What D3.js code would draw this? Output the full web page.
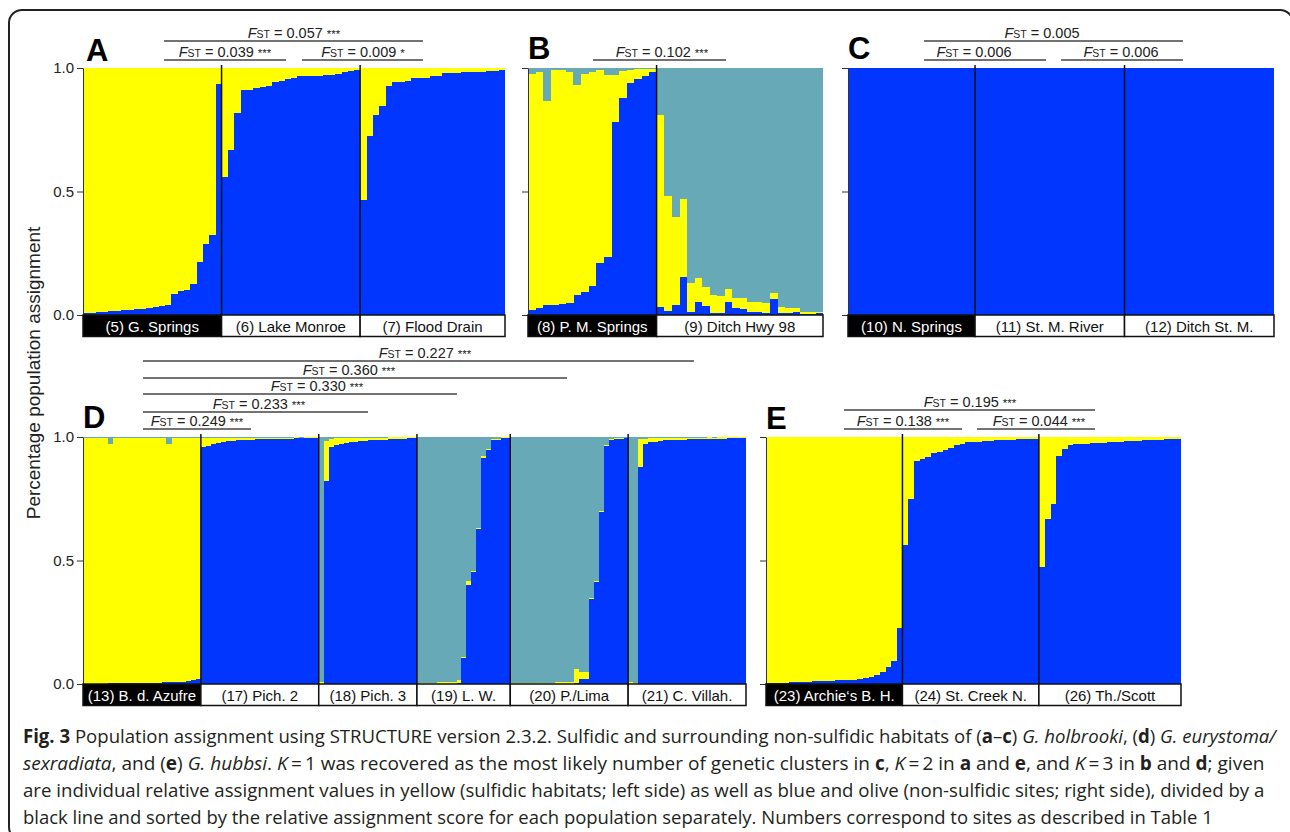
<!DOCTYPE html>
<html>
<head>
<meta charset="utf-8">
<script src="https://cdn.jsdelivr.net/npm/d3@7"></script>
<style>
  body { margin: 0; background: #fff; }
  text { font-family: Arial, "Liberation Sans", sans-serif; fill: #222; }
  .caption text, text.caption { font-family: "Open Sans", sans-serif; }
</style>
</head>
<body>
<svg id="fig" width="1290" height="832"></svg>
<script>
// cluster colours
var yellow = "#ffff00", blue = "#0036ff", teal = "#68a9b7";

// ---- individual assignment values, sorted as in the figure ----
// K = 2 (and K = 1) populations: blue share, yellow is the rest
var pop5Blue = [0.007, 0.009, 0.011, 0.013, 0.015, 0.017, 0.019, 0.021, 0.023, 0.025, 0.028, 0.031, 0.035, 0.04, 0.084, 0.098, 0.103, 0.124, 0.213, 0.288, 0.323, 0.936];
var pop6Blue = [0.558, 0.666, 0.818, 0.909, 0.911, 0.918, 0.925, 0.927, 0.944, 0.946, 0.955, 0.96, 0.966, 0.968, 0.969, 0.969, 0.971, 0.973, 0.974, 0.982, 0.986, 0.99];
var pop7Blue = [0.466, 0.726, 0.811, 0.845, 0.928, 0.942, 0.945, 0.946, 0.958, 0.959, 0.96, 0.967, 0.969, 0.978, 0.98, 0.981, 0.982, 0.983, 0.984, 0.985, 0.987, 0.989, 0.99];
var pop10Blue = [1, 1, 1, 1, 1, 1, 1, 1, 1, 1, 1, 1, 1, 1, 1, 1, 1];
var pop11Blue = [1, 1, 1, 1, 1, 1, 1, 1, 1, 1, 1, 1, 1, 1, 1, 1, 1, 1, 1, 1];
var pop12Blue = [1, 1, 1, 1, 1, 1, 1, 1, 1, 1, 1, 1, 1, 1, 1, 1, 1, 1, 1, 1];
var pop23Blue = [0.003, 0.004, 0.005, 0.006, 0.007, 0.008, 0.009, 0.01, 0.011, 0.012, 0.013, 0.014, 0.015, 0.016, 0.017, 0.018, 0.02, 0.023, 0.03, 0.036, 0.05, 0.068, 0.093, 0.225];
var pop24Blue = [0.561, 0.749, 0.901, 0.911, 0.919, 0.937, 0.939, 0.946, 0.955, 0.966, 0.973, 0.979, 0.98, 0.981, 0.984, 0.985, 0.986, 0.987, 0.988, 0.989, 0.99, 0.99, 0.991, 0.992];
var pop26Blue = [0.473, 0.668, 0.728, 0.922, 0.953, 0.968, 0.97, 0.972, 0.973, 0.975, 0.976, 0.977, 0.978, 0.98, 0.981, 0.982, 0.983, 0.984, 0.986, 0.987, 0.988, 0.989, 0.99, 0.992, 0.993];

// K = 3 populations: blue and yellow shares, teal (olive) is the rest
var pop8Blue = [0.02, 0.027, 0.04, 0.04, 0.045, 0.05, 0.08, 0.095, 0.118, 0.212, 0.236, 0.78, 0.878, 0.939, 0.955, 0.969, 0.982];
var pop8Yellow = [0.957, 0.955, 0.828, 0.95, 0.948, 0.935, 0.851, 0.882, 0.864, 0.778, 0.736, 0.193, 0.108, 0.054, 0.039, 0.026, 0.014];
var pop9Blue = [0.034, 0.018, 0.04, 0.153, 0.013, 0.054, 0.036, 0.007, 0.01, 0.054, 0.027, 0.023, 0.014, 0.011, 0.01, 0.064, 0.01, 0.007, 0.012, 0.004, 0.004, 0.007];
var pop9Yellow = [0.777, 0.464, 0.355, 0.317, 0.118, 0.095, 0.076, 0.074, 0.067, 0.05, 0.041, 0.045, 0.04, 0.043, 0.037, 0.024, 0.024, 0.02, 0.015, 0.01, 0.007, 0.007];
var pop13Blue = [0.001, 0.001, 0.002, 0.002, 0.002, 0.003, 0.003, 0.003, 0.004, 0.004, 0.004, 0.005, 0.005, 0.005, 0.006, 0.006, 0.007, 0.007, 0.008, 0.009, 0.01, 0.012, 0.016, 0.02];
var pop13Yellow = [0.995, 0.995, 0.995, 0.993, 0.994, 0.967, 0.993, 0.994, 0.992, 0.991, 0.993, 0.991, 0.991, 0.99, 0.99, 0.991, 0.989, 0.966, 0.988, 0.988, 0.986, 0.985, 0.981, 0.977];
var pop17Blue = [0.958, 0.965, 0.97, 0.977, 0.98, 0.983, 0.985, 0.986, 0.987, 0.988, 0.989, 0.99, 0.99, 0.991, 0.991, 0.992, 0.992, 0.993, 0.993, 0.994, 0.994, 0.995, 0.995, 0.996];
var pop17Yellow = [0.038, 0.031, 0.026, 0.019, 0.016, 0.013, 0.011, 0.01, 0.009, 0.008, 0.007, 0.007, 0.006, 0.006, 0.005, 0.005, 0.005, 0.004, 0.004, 0.004, 0.003, 0.003, 0.003, 0.002];
var pop18Blue = [0, 0.822, 0.96, 0.968, 0.972, 0.976, 0.979, 0.981, 0.983, 0.985, 0.986, 0.987, 0.988, 0.989, 0.99, 0.991, 0.992, 0.993, 0.994, 0.995];
var pop18Yellow = [0.01, 0.163, 0.03, 0.026, 0.023, 0.02, 0.017, 0.015, 0.013, 0.012, 0.011, 0.01, 0.009, 0.008, 0.008, 0.007, 0.006, 0.005, 0.004, 0.004];
var pop19Blue = [0, 0, 0, 0, 0, 0, 0, 0, 0.005, 0.106, 0.399, 0.453, 0.628, 0.917, 0.946, 0.987, 0.988, 0.995, 0.996];
var pop19Yellow = [0.005, 0.005, 0.006, 0.006, 0.007, 0.008, 0.008, 0.009, 0.01, 0.005, 0.016, 0.005, 0.005, 0.005, 0.006, 0.005, 0.005, 0.003, 0.002];
var pop20Blue = [0, 0, 0, 0, 0, 0, 0, 0, 0, 0, 0, 0, 0, 0.005, 0.02, 0.02, 0.343, 0.413, 0.696, 0.964, 0.987, 0.992, 0.993, 0.994];
var pop20Yellow = [0.003, 0.003, 0.003, 0.004, 0.004, 0.004, 0.006, 0.005, 0.006, 0.007, 0.007, 0.008, 0.009, 0.055, 0.03, 0.03, 0.006, 0.006, 0.004, 0.004, 0.004, 0.003, 0.003, 0.003];
var pop21Blue = [0, 0, 0.879, 0.973, 0.981, 0.981, 0.985, 0.986, 0.987, 0.988, 0.988, 0.989, 0.99, 0.99, 0.991, 0.991, 0.992, 0.992, 0.993, 0.993, 0.994, 0.994, 0.995, 0.995];
var pop21Yellow = [0.008, 0.006, 0.112, 0.02, 0.015, 0.015, 0.01, 0.01, 0.009, 0.009, 0.008, 0.008, 0.007, 0.007, 0.006, 0.006, 0.006, 0.005, 0.005, 0.005, 0.004, 0.004, 0.004, 0.003];

// population labels (first one of each panel = sulfidic, black box)
var labelsA = ["(5) G. Springs", "(6) Lake Monroe", "(7) Flood Drain"];
var labelsB = ["(8) P. M. Springs", "(9) Ditch Hwy 98"];
var labelsC = ["(10) N. Springs", "(11) St. M. River", "(12) Ditch St. M."];
var labelsD = ["(13) B. d. Azufre", "(17) Pich. 2", "(18) Pich. 3", "(19) L. W.", "(20) P./Lima", "(21) C. Villah."];
var labelsE = ["(23) Archie\u2018s B. H.", "(24) St. Creek N.", "(26) Th./Scott"];

// pairwise FST values
var fstA = ["0.057 ***", "0.039 ***", "0.009 *"];
var fstB = ["0.102 ***"];
var fstC = ["0.005", "0.006", "0.006"];
var fstD = ["0.227 ***", "0.360 ***", "0.330 ***", "0.233 ***", "0.249 ***"];
var fstE = ["0.195 ***", "0.138 ***", "0.044 ***"];

var yTicks = [0, 0.5, 1];

// caption lines: [text, style]  b = bold, i = italic
var caption1 = [["Fig. 3", "b"], [" Population assignment using STRUCTURE version 2.3.2. Sulfidic and surrounding non-sulfidic habitats of (", ""], ["a", "b"], ["\u2013", ""], ["c", "b"], [") ", ""], ["G. holbrooki", "i"], [", (", ""], ["d", "b"], [") ", ""], ["G. eurystoma/", "i"]];
var caption2 = [["sexradiata", "i"], [", and (", ""], ["e", "b"], [") ", ""], ["G. hubbsi", "i"], [". ", ""], ["K", "i"], ["\u2009=\u20091 was recovered as the most likely number of genetic clusters in ", ""], ["c", "b"], [", ", ""], ["K", "i"], ["\u2009=\u20092 in ", ""], ["a", "b"], [" and ", ""], ["e", "b"], [", and ", ""], ["K", "i"], ["\u2009=\u20093 in ", ""], ["b", "b"], [" and ", ""], ["d", "b"], ["; given", ""]];
var caption3 = [["are individual relative assignment values in yellow (sulfidic habitats; left side) as well as blue and olive (non-sulfidic sites; right side), divided by a", ""]];
var caption4 = [["black line and sorted by the relative assignment score for each population separately. Numbers correspond to sites as described in Table 1", ""]];

// ---- layout ----
var panels = [
  { letter: "A", lx: 86, ly: 61, x0: 83, x1: 505, y0: 68, y1: 315, tickLabels: true,
    pops: [pop5Blue, pop6Blue, pop7Blue].map(function(b, i) { return { label: labelsA[i], blue: b }; }),
    fst: [{ x0: 164, x1: 423, y: 41, tx: 294 }, { x0: 164, x1: 286, y: 60, tx: 225 }, { x0: 302, x1: 423, y: 60, tx: 363 }], fstText: fstA },
  { letter: "B", lx: 528, ly: 59, x0: 528, x1: 823, y0: 68, y1: 315, tickLabels: false,
    pops: [{ label: labelsB[0], blue: pop8Blue, yellow: pop8Yellow }, { label: labelsB[1], blue: pop9Blue, yellow: pop9Yellow }],
    fst: [{ x0: 593, x1: 726, y: 60, tx: 662 }], fstText: fstB },
  { letter: "C", lx: 848, ly: 59, x0: 848, x1: 1274, y0: 68, y1: 315, tickLabels: false,
    pops: [pop10Blue, pop11Blue, pop12Blue].map(function(b, i) { return { label: labelsC[i], blue: b }; }),
    fst: [{ x0: 924, x1: 1183, y: 41, tx: 1042 }, { x0: 924, x1: 1046, y: 60, tx: 974 }, { x0: 1061, x1: 1183, y: 60, tx: 1121 }], fstText: fstC },
  { letter: "D", lx: 83, ly: 428, x0: 83, x1: 746, y0: 437, y1: 684, tickLabels: true,
    pops: [[pop13Blue, pop13Yellow], [pop17Blue, pop17Yellow], [pop18Blue, pop18Yellow], [pop19Blue, pop19Yellow], [pop20Blue, pop20Yellow], [pop21Blue, pop21Yellow]]
      .map(function(p, i) { return { label: labelsD[i], blue: p[0], yellow: p[1] }; }),
    fst: [{ x0: 143, x1: 694, y: 361, tx: 425 }, { x0: 143, x1: 567, y: 378, tx: 349 }, { x0: 143, x1: 457, y: 394, tx: 317 },
          { x0: 143, x1: 368, y: 412, tx: 259 }, { x0: 143, x1: 251, y: 429, tx: 197 }], fstText: fstD },
  { letter: "E", lx: 766, ly: 429, x0: 766, x1: 1181, y0: 437, y1: 684, tickLabels: false,
    pops: [pop23Blue, pop24Blue, pop26Blue].map(function(b, i) { return { label: labelsE[i], blue: b }; }),
    fst: [{ x0: 844, x1: 1095, y: 410, tx: 970 }, { x0: 844, x1: 962, y: 429, tx: 903 }, { x0: 977, x1: 1095, y: 429, tx: 1039 }], fstText: fstE }
];

var svg = d3.select("#fig");

// rounded frame round the figure
svg.append("rect")
  .attr("x", 9).attr("y", 10).attr("width", 1284).attr("height", 830).attr("rx", 13)
  .attr("fill", "none").attr("stroke", "#222").attr("stroke-width", 2);

// shared y axis title
svg.append("text")
  .attr("transform", "translate(40,373) rotate(-90)")
  .attr("text-anchor", "middle")
  .attr("font-size", 19)
  .text("Percentage population assignment");

var stack = d3.stack().keys(["blue", "yellow", "teal"]);
var colour = { blue: blue, yellow: yellow, teal: teal };

panels.forEach(function(p) {
  var g = svg.append("g");

  // one row per individual
  var rows = [], bounds = [];
  p.pops.forEach(function(pop, pi) {
    var start = rows.length;
    pop.blue.forEach(function(b, i) {
      var yv = pop.yellow ? pop.yellow[i] : 1 - b;
      rows.push({ id: pi + "_" + i, blue: b, yellow: yv, teal: Math.max(0, 1 - b - yv) });
    });
    bounds.push([rows[start].id, rows[rows.length - 1].id]);
  });

  var x = d3.scaleBand().domain(rows.map(function(d) { return d.id; })).range([p.x0, p.x1]).padding(0);
  var y = d3.scaleLinear().domain([0, 1]).range([p.y1, p.y0]);

  // stacked bars
  g.selectAll("g.layer")
    .data(stack(rows))
    .enter().append("g")
      .attr("class", "layer")
      .attr("fill", function(s) { return colour[s.key]; })
    .selectAll("rect")
    .data(function(s) { return s; })
    .enter().append("rect")
      .attr("x", function(d) { return x(d.data.id); })
      .attr("width", x.bandwidth() + 0.3)
      .attr("y", function(d) { return y(d[1]); })
      .attr("height", function(d) { return Math.max(0, y(d[0]) - y(d[1])); })
      .attr("shape-rendering", "crispEdges");

  // y axis
  var axis = d3.axisLeft(y).tickValues(yTicks).tickSize(6).tickSizeOuter(0)
    .tickFormat(p.tickLabels ? d3.format(".1f") : function() { return ""; });
  var ax = g.append("g").attr("transform", "translate(" + p.x0 + ",0)").call(axis);
  ax.selectAll("path, line").attr("stroke", "#333");
  ax.selectAll("text").attr("font-size", 15).attr("fill", "#222")
    .attr("font-family", "Arial, 'Liberation Sans', sans-serif");

  // population boxes and dividers
  bounds.forEach(function(b, i) {
    var bx0 = x(b[0]), bx1 = x(b[1]) + x.bandwidth();
    if (i > 0) {
      g.append("line").attr("x1", bx0).attr("x2", bx0).attr("y1", p.y0 - 3).attr("y2", p.y1)
        .attr("stroke", "#111").attr("stroke-width", 1.5);
    }
    g.append("rect")
      .attr("x", bx0).attr("y", p.y1).attr("width", bx1 - bx0).attr("height", 21.5)
      .attr("fill", i === 0 ? "#000" : "#fff")
      .attr("stroke", "#111").attr("stroke-width", 1.5);
    g.append("text")
      .attr("x", (bx0 + bx1) / 2).attr("y", p.y1 + 16.5)
      .attr("text-anchor", "middle").attr("font-size", 15)
      .style("fill", i === 0 ? "#fff" : "#111")
      .text(p.pops[i].label);
  });

  // panel letter
  g.append("text").attr("x", p.lx).attr("y", p.ly)
    .attr("font-size", 31).attr("font-weight", "bold").style("fill", "#000")
    .text(p.letter);

  // FST brackets
  p.fst.forEach(function(f, i) {
    var parts = p.fstText[i].split(" ");
    g.append("line").attr("x1", f.x0).attr("x2", f.x1).attr("y1", f.y).attr("y2", f.y)
      .attr("stroke", "#444").attr("stroke-width", 1.3);
    var t = g.append("text").attr("x", f.tx).attr("y", f.y - 3)
      .attr("text-anchor", "middle").attr("font-size", 14.5);
    t.append("tspan").attr("font-style", "italic").text("F");
    t.append("tspan").attr("font-size", 10.5).text("ST");
    t.append("tspan").text(" = " + parts[0] + (parts[1] ? " " : ""));
    if (parts[1]) t.append("tspan").attr("font-size", 11.5).text(parts[1]);
  });
});

// caption, each line squeezed to the width it has in the figure
var capLines = [caption1, caption2, caption3, caption4];
var capBase = [743, 770, 797, 824];
var capWidth = [1254, 1242, 1242, 1191];
capLines.forEach(function(line, i) {
  var t = svg.append("text").attr("class", "caption")
    .attr("font-size", 19).style("fill", "#231f20");
  line.forEach(function(seg) {
    t.append("tspan")
      .attr("font-weight", seg[1] === "b" ? "bold" : null)
      .attr("font-style", seg[1] === "i" ? "italic" : null)
      .text(seg[0]);
  });
  var w = t.node().getComputedTextLength();
  t.attr("transform", "translate(23," + capBase[i] + ") scale(" + (capWidth[i] / w) + ",1)");
});
</script>
</body>
</html>
